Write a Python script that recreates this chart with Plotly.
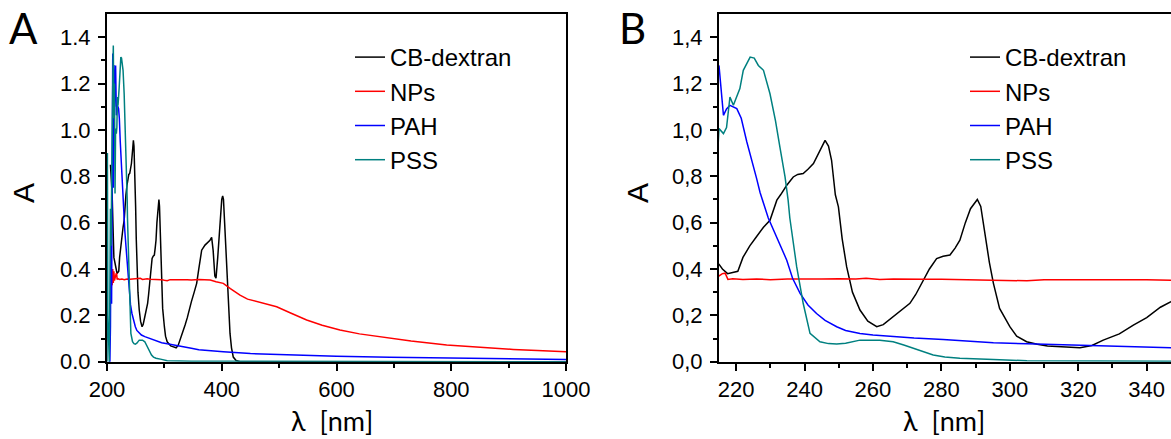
import plotly.graph_objects as go

# ---------------- data ----------------
cb_x = [206, 209, 212, 215, 216, 217.5, 219, 220.5, 222, 224, 226, 228, 229.9, 231.9, 233, 234.8,
        236.7, 238, 239.6, 241, 242.6, 244.5, 246, 247, 247.9, 249, 249.9, 251, 252.3, 254, 256.2,
        258.5, 261.1, 263, 265.9, 268, 270.8, 272.5, 274.7, 276.5, 278.6, 280.5, 282.5, 284, 285.4,
        287, 288.5, 289.8, 290.5, 291.5, 292.7, 294, 295.2, 297, 300, 302, 304.9, 308, 311, 314.6,
        320.5, 324, 327.3, 332, 336.1, 340, 344, 347.1, 352, 356.3, 360, 365, 370.8, 376, 379.5,
        382.4, 385, 388, 390, 393, 397, 400, 401.6, 403, 405, 408.6, 411, 414.4, 417, 420.1, 425,
        432, 500, 1000]
cb_y = [0.85, 0.72, 0.45, 0.42, 0.40, 0.38, 0.385, 0.39, 0.45, 0.50, 0.54, 0.58, 0.61, 0.697, 0.72,
        0.761, 0.797, 0.808, 0.812, 0.83, 0.855, 0.91, 0.955, 0.93, 0.869, 0.72, 0.668, 0.53, 0.41,
        0.30, 0.223, 0.175, 0.151, 0.16, 0.194, 0.22, 0.252, 0.29, 0.352, 0.40, 0.445, 0.455, 0.46,
        0.49, 0.524, 0.60, 0.66, 0.689, 0.70, 0.67, 0.553, 0.43, 0.338, 0.23, 0.151, 0.11, 0.086,
        0.075, 0.068, 0.065, 0.060, 0.07, 0.093, 0.12, 0.158, 0.19, 0.235, 0.259, 0.30, 0.338, 0.40,
        0.481, 0.503, 0.515, 0.524, 0.536, 0.48, 0.37, 0.36, 0.45, 0.61, 0.70, 0.715, 0.70, 0.60,
        0.409, 0.25, 0.122, 0.06, 0.02, 0.005, 0.0, 0.0, 0.0]

np_x = [207, 208, 209, 210, 211, 212, 213, 214, 215, 216, 216.8, 217.6, 219, 222, 226, 230, 235, 240,
        245, 250, 255, 258, 262, 266, 270, 275, 280, 285, 290, 295, 300, 305, 310, 315, 320, 330, 340,
        347, 360, 380, 390, 402.7, 415, 431.8, 445, 460.9, 480, 495.7, 520, 548, 575, 606, 640, 675.8,
        730, 792, 850, 908, 950, 1000]
np_y = [0.28, 0.36, 0.33, 0.40, 0.34, 0.39, 0.35, 0.37, 0.37, 0.38, 0.382, 0.355, 0.358, 0.355, 0.357,
        0.354, 0.357, 0.356, 0.357, 0.358, 0.357, 0.360, 0.355, 0.357, 0.358, 0.356, 0.356, 0.355,
        0.353, 0.354, 0.351, 0.349, 0.354, 0.353, 0.354, 0.353, 0.353, 0.352, 0.355, 0.352, 0.345,
        0.338, 0.315, 0.287, 0.27, 0.259, 0.247, 0.237, 0.21, 0.18, 0.157, 0.137, 0.12, 0.108, 0.089,
        0.072, 0.061, 0.053, 0.048, 0.043]

pah_x = [203, 205, 206, 207, 208, 209, 210, 211, 212, 213, 214, 215, 216.3, 217.2, 218.2, 220.2, 221.5,
         223.1, 226, 227, 229.4, 231, 233, 234.8, 236.5, 238.7, 241, 243.5, 246, 249.4, 252, 256.2,
         260, 265.9, 272, 280.5, 288, 295.2, 305, 314.6, 325, 334.1, 347, 360, 380, 402.7, 450, 519,
         600, 693, 800, 900, 1000]
pah_y = [0.0, 0.0, 0.15, 0.6, 0.25, 0.9, 1.33, 0.75, 1.28, 1.1, 1.25, 1.278, 1.063, 1.09, 1.106, 1.092,
         1.05, 0.95, 0.79, 0.73, 0.62, 0.566, 0.50, 0.438, 0.36, 0.295, 0.245, 0.208, 0.178, 0.151,
         0.135, 0.122, 0.115, 0.108, 0.102, 0.096, 0.088, 0.082, 0.077, 0.072, 0.068, 0.065, 0.058,
         0.052, 0.047, 0.043, 0.035, 0.029, 0.024, 0.019, 0.015, 0.012, 0.010]

pss_x = [200, 200.7, 201.5, 203, 204, 205, 206, 207, 208, 209, 210, 211, 212, 213, 214, 215, 216.3,
         217.2, 218.2, 219.2, 221.1, 222.1, 224.1, 225.3, 226.5, 228, 229.9, 231.5, 232.8, 234.3,
         235.2, 235.7, 237.7, 239.6, 241.6, 244.5, 247, 249.4, 252, 256.2, 262, 265.9, 269, 271.8,
         275, 277.6, 281, 285.4, 295.2, 305, 347, 400, 600, 1000]
pss_y = [0.0, 0.9, 0.2, 0.05, 0.0, 0.3, 0.66, 0.5, 0.9, 1.0, 1.2, 1.364, 1.05, 1.2, 0.726, 1.006, 0.984,
         1.01, 1.142, 1.106, 1.178, 1.257, 1.314, 1.31, 1.278, 1.257, 1.156, 1.04, 0.926, 0.797,
         0.697, 0.62, 0.41, 0.252, 0.122, 0.086, 0.078, 0.076, 0.08, 0.093, 0.093, 0.086, 0.072,
         0.058, 0.04, 0.029, 0.02, 0.015, 0.01, 0.004, 0.002, 0.002, 0.001, 0.0]

series_names = ["CB-dextran", "NPs", "PAH", "PSS"]
series_colors = ["#000000", "#ff0000", "#0000ff", "#008080"]

# ticks
a_xticks = [200, 400, 600, 800, 1000]
a_xtick_labels = ["200", "400", "600", "800", "1000"]
a_xminor = [300, 500, 700, 900]
b_xticks = [220, 240, 260, 280, 300, 320, 340]
b_xtick_labels = ["220", "240", "260", "280", "300", "320", "340"]
b_xminor = [230, 250, 270, 290, 310, 330]
yticks = [0.0, 0.2, 0.4, 0.6, 0.8, 1.0, 1.2, 1.4]
a_ytick_labels = ["0.0", "0.2", "0.4", "0.6", "0.8", "1.0", "1.2", "1.4"]
b_ytick_labels = ["0,0", "0,2", "0,4", "0,6", "0,8", "1,0", "1,2", "1,4"]
yminor = [0.1, 0.3, 0.5, 0.7, 0.9, 1.1, 1.3]

A_XRANGE = [200, 1000]
B_XRANGE = [215, 347.1]
YRANGE = [0, 1.5]

# ---------------- layout helpers ----------------
W, H = 1171, 439
def fx(p):
    return p / W
def fy(p):
    return 1 - p / H

Y_BOT, Y_TOP = 361.7, 14
A_L, A_R = 107, 566
B_L = 719

fig = go.Figure()
xs_all = [cb_x, np_x, pah_x, pss_x]
ys_all = [cb_y, np_y, pah_y, pss_y]
for name, xs, ys, col in zip(series_names, xs_all, ys_all, series_colors):
    fig.add_trace(go.Scatter(x=xs, y=ys, mode="lines", name=name,
                             line=dict(color=col, width=1.5),
                             xaxis="x", yaxis="y", legend="legend"))
for name, xs, ys, col in zip(series_names, xs_all, ys_all, series_colors):
    fig.add_trace(go.Scatter(x=xs, y=ys, mode="lines", name=name,
                             line=dict(color=col, width=1.5),
                             xaxis="x2", yaxis="y2", legend="legend2"))

tickfont = dict(family="Liberation Sans", size=22, color="black")
common = dict(showgrid=False, zeroline=False, linecolor="black", linewidth=2,
              tickcolor="black", tickwidth=2, ticklen=7, tickfont=tickfont, automargin=False)

def minor(vals, direction):
    return dict(tickvals=vals, ticks=direction, ticklen=4, tickwidth=1.5, tickcolor="black",
                showgrid=False)

adom = [fx(A_L), fx(A_R)]
bdom = [fx(B_L), 1.0]
ydom = [fy(Y_BOT), fy(Y_TOP)]

fig.update_layout(
    template="none",
    width=W, height=H,
    margin=dict(l=0, r=0, t=0, b=0, pad=0),
    paper_bgcolor="white", plot_bgcolor="rgba(0,0,0,0)",
    font=dict(family="Liberation Sans", color="black"),
    showlegend=True,
    # panel A main axes
    xaxis=dict(domain=adom, range=A_XRANGE, anchor="y", ticks="outside", showline=True,
               mirror=True, tickvals=a_xticks, ticktext=a_xtick_labels,
               minor=minor(a_xminor, "outside"), **common),
    yaxis=dict(domain=ydom, range=YRANGE, anchor="x", ticks="outside", showline=True,
               mirror=True, tickvals=yticks, ticktext=a_ytick_labels,
               minor=minor(yminor, "outside"), ticklabelstandoff=3, **common),
    # panel A inner ticks on top / right
    xaxis3=dict(domain=adom, range=A_XRANGE, anchor="y3", side="top", ticks="inside",
                showline=False, showticklabels=False, tickvals=a_xticks,
                minor=minor(a_xminor, "inside"), **common),
    yaxis3=dict(domain=ydom, range=YRANGE, anchor="x3", side="right", ticks="inside",
                showline=False, showticklabels=False, tickvals=yticks,
                minor=minor(yminor, "inside"), **common),
    # panel B main axes
    xaxis2=dict(domain=bdom, range=B_XRANGE, anchor="y2", ticks="outside", showline=True,
                mirror=True, tickvals=b_xticks, ticktext=b_xtick_labels,
                minor=minor(b_xminor, "outside"), **common),
    yaxis2=dict(domain=ydom, range=YRANGE, anchor="x2", ticks="outside", showline=True,
                mirror=False, tickvals=yticks, ticktext=b_ytick_labels,
                minor=minor(yminor, "outside"), ticklabelstandoff=3, **common),
    # panel B inner ticks on top
    xaxis4=dict(domain=bdom, range=B_XRANGE, anchor="y4", side="top", ticks="inside",
                showline=False, showticklabels=False, tickvals=b_xticks,
                minor=minor(b_xminor, "inside"), **common),
    yaxis4=dict(domain=ydom, range=YRANGE, anchor="x4", side="right", ticks="",
                showline=False, showticklabels=False, **common),
    legend=dict(x=fx(350), y=fy(35), xanchor="left", yanchor="top",
                bgcolor="rgba(0,0,0,0)", borderwidth=0, tracegroupgap=0,
                font=dict(family="Liberation Sans", size=24, color="black")),
    legend2=dict(x=fx(965), y=fy(35), xanchor="left", yanchor="top",
                 bgcolor="rgba(0,0,0,0)", borderwidth=0, tracegroupgap=0,
                 font=dict(family="Liberation Sans", size=24, color="black")),
)

title_font = dict(family="Lato", size=27, color="black")
ann = [
    dict(text="A", x=fx(23), y=fy(28), font=dict(family="Lato", size=42, color="black")),
    dict(text="B", x=fx(632), y=fy(28), font=dict(family="Lato", size=42, color="black")),
    dict(text="λ  [nm]", x=fx(332), y=fy(420), font=title_font),
    dict(text="λ  [nm]", x=fx(944), y=fy(420), font=title_font),
    dict(text="A", x=fx(23), y=fy(193), textangle=-90,
         font=dict(family="Liberation Sans", size=30, color="black")),
    dict(text="A", x=fx(637), y=fy(193), textangle=-90,
         font=dict(family="Liberation Sans", size=30, color="black")),
]
for a in ann:
    a.update(xref="paper", yref="paper", showarrow=False, xanchor="center", yanchor="middle")
fig.update_layout(annotations=ann)

fig.write_html("out.html", config={"displayModeBar": False},
               post_script="document.body.style.margin='0';document.body.style.padding='0';")
